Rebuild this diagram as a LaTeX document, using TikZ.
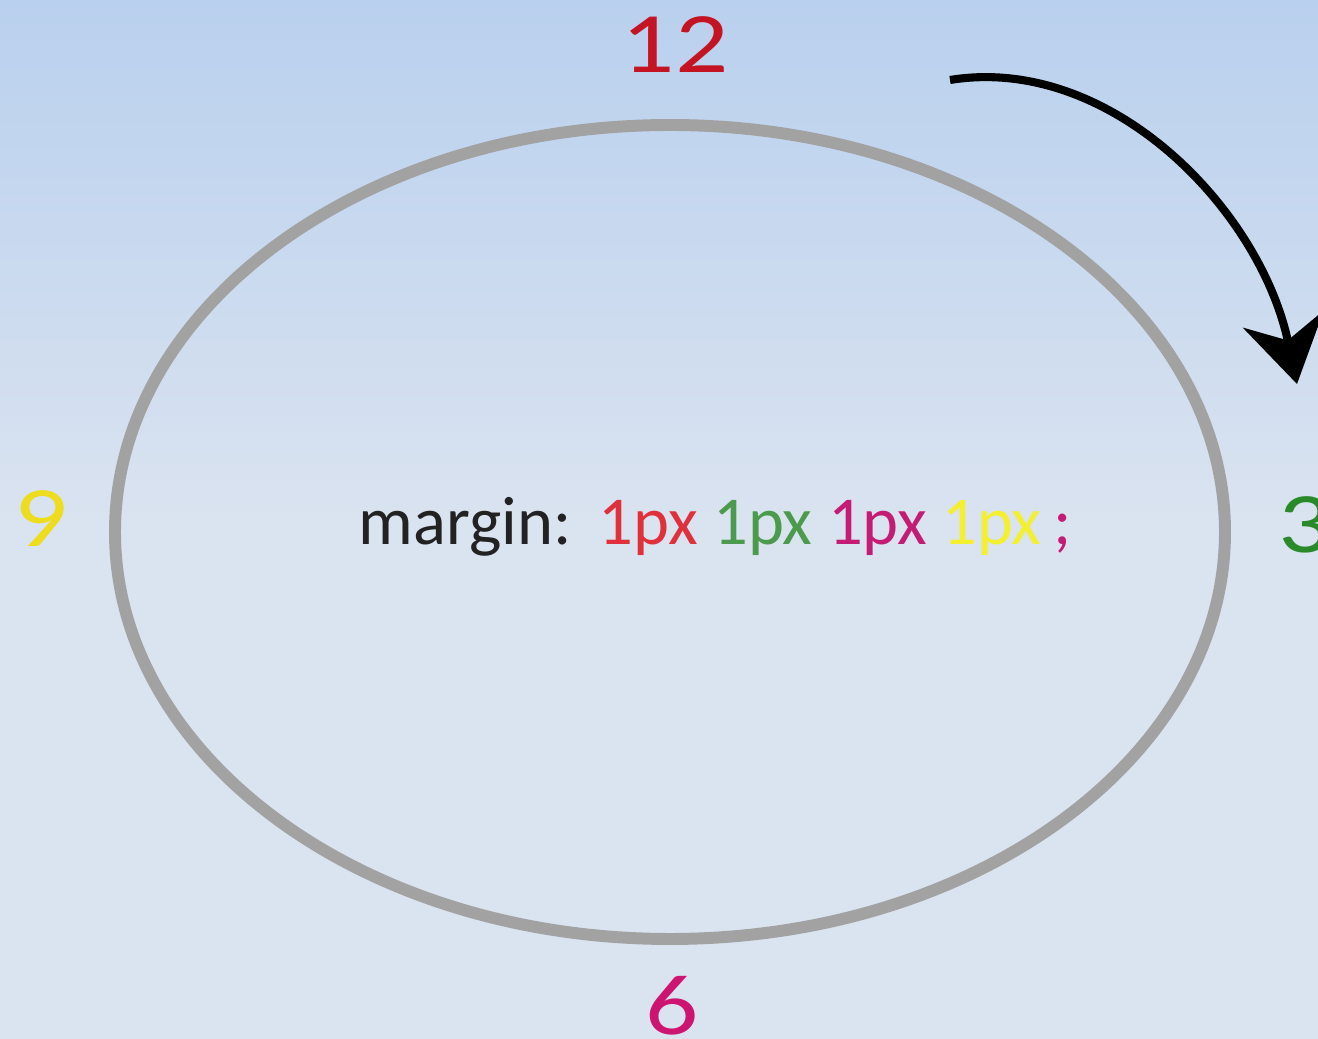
\documentclass[tikz,border=0pt]{standalone}
\usepackage{fontspec}
\setmainfont{Carlito}
\usepackage{xcolor}
\usetikzlibrary{arrows.meta,positioning,shapes.geometric,calc}
\definecolor{skytop}{HTML}{B9D0EE}
\definecolor{skymid}{HTML}{DAE3F0}
\definecolor{ringgray}{HTML}{A2A2A2}
\definecolor{topred}{HTML}{C41424}
\definecolor{rightgreen}{HTML}{2A8A2A}
\definecolor{bottommag}{HTML}{CC1470}
\definecolor{leftyellow}{HTML}{EEDC1E}
\definecolor{pxred}{HTML}{E0303C}
\definecolor{pxgreen}{HTML}{4C9A4C}
\definecolor{pxmag}{HTML}{C41C74}
\definecolor{pxyellow}{HTML}{F4F030}
\definecolor{ink}{HTML}{222222}
\newcommand{\wide}[1]{\scalebox{1.22}[1]{#1}}
\tikzset{
  ringbox/.style={
    ellipse, draw=ringgray, line width=3.4pt,
    minimum width=11.1cm, minimum height=8.14cm,
    inner sep=0pt
  },
  clocklabel/.style={
    font=\fontsize{24.5}{26}\selectfont, text=#1,
    inner sep=0pt, anchor=center
  },
  clocklabel/.default=ink,
  rulelabel/.style={
    font=\fontsize{19.5}{22}\selectfont, text=ink,
    inner sep=0pt
  },
  turnarrow/.style={
    -{Stealth[length=0.66cm, width=0.82cm]}, line width=2.3pt, color=black
  },
}

\begin{document}
\begin{tikzpicture}
  \shade[top color=skytop, bottom color=skymid] (0,5.2) rectangle (13.18,10.39);
  \fill[skymid] (0,0) rectangle (13.18,5.21);
  \useasboundingbox (0,0) rectangle (13.18,10.39);
  \node[ringbox] (ring) at (6.70,5.07) {};
  \node[rulelabel] (rule) at (7.15,5.12) {margin:\hspace{0.4em}\textcolor{pxred}{1px}
    \textcolor{pxgreen}{1px} \textcolor{pxmag}{1px} \textcolor{pxyellow}{1px}\,\textcolor{pxmag}{;}};
  \node[clocklabel=topred] (twelve) at (6.75,9.94) {\wide{12}};
  \node[clocklabel=rightgreen] (three) at (13.05,5.14) {\wide{3}};
  \node[clocklabel=bottommag] (six) at (6.72,0.33) {\wide{6}};
  \node[clocklabel=leftyellow] (nine) at (0.41,5.20) {\wide{9}};
  \coordinate (turnstart) at (9.50,9.59);
  \coordinate (turnend) at (12.97,6.55);
  \draw[turnarrow] (turnstart) .. controls (11.1,9.85) and (12.6,8.3) .. (turnend);
\end{tikzpicture}
\end{document}
